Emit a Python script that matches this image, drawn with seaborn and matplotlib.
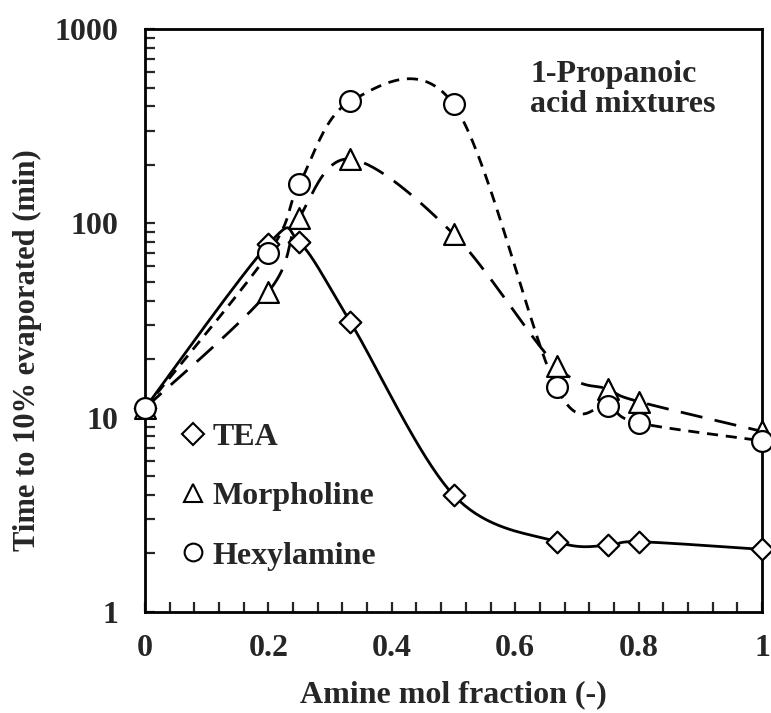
import numpy as np
import pandas as pd
import matplotlib
matplotlib.use("Agg")
import matplotlib.pyplot as plt
from matplotlib.lines import Line2D
from matplotlib.ticker import FixedLocator, MultipleLocator, LogLocator, NullFormatter
import seaborn as sns

# ---- data ----
x_frac = [0.0, 0.2, 0.25, 0.333, 0.5, 0.667, 0.75, 0.8, 1.0]
tea = [11.2, 78, 80, 31, 4.0, 2.3, 2.2, 2.3, 2.1]
morpholine = [11.2, 44.5, 107, 214, 88, 18.5, 14.0, 12.1, 8.5]
hexylamine = [11.2, 70, 159, 425, 410, 14.3, 11.5, 9.4, 7.6]
series_names = ["TEA", "Morpholine", "Hexylamine"]
x_ticks = [0, 0.2, 0.4, 0.6, 0.8, 1]
x_tick_labels = ["0", "0.2", "0.4", "0.6", "0.8", "1"]
y_ticks = [1, 10, 100, 1000]
y_tick_labels = ["1", "10", "100", "1000"]

sns.set_style("ticks")
plt.rcParams["font.family"] = ["Liberation Serif", "DejaVu Serif"]
plt.rcParams["font.weight"] = "bold"

W, H = 771, 713
fig = plt.figure(figsize=(W / 100, H / 100), dpi=100)
ax = fig.add_axes([145 / W, 1 - 612 / H, (762 - 145) / W, (612 - 29) / H])


def smooth(xs, ys, sx=617.0, sy=194.0, n=40):
    """Excel-like smoothed line (Catmull-Rom Bezier) in display-like space."""
    P = np.column_stack([np.asarray(xs) * sx, np.log10(ys) * sy])
    out = []
    m = len(P)
    for i in range(m - 1):
        p0 = P[i - 1] if i > 0 else P[i]
        p1, p2 = P[i], P[i + 1]
        p3 = P[i + 2] if i + 2 < m else P[i + 1]
        c1 = p1 + (p2 - p0) / 6.0
        c2 = p2 - (p3 - p1) / 6.0
        t = np.linspace(0, 1, n)[:, None]
        seg = (1 - t) ** 3 * p1 + 3 * (1 - t) ** 2 * t * c1 + 3 * (1 - t) * t ** 2 * c2 + t ** 3 * p2
        out.append(seg if i == 0 else seg[1:])
    S = np.vstack(out)
    return S[:, 0] / sx, 10 ** (S[:, 1] / sy)


styles = {
    "TEA": dict(ls="-", marker="D", ms=11),
    "Morpholine": dict(ls=(0, (8, 4.5)), marker="^", ms=15),
    "Hexylamine": dict(ls=(0, (4, 2.8)), marker="o", ms=15),
}
data = {"TEA": tea, "Morpholine": morpholine, "Hexylamine": hexylamine}

lw = 2.0
for name in series_names:
    cx, cy = smooth(x_frac, data[name])
    sns.lineplot(x=cx, y=cy, sort=False, estimator=None, color="black",
                 linewidth=lw, linestyle=styles[name]["ls"], ax=ax, zorder=2)

for name in series_names:
    df = pd.DataFrame({"x": x_frac, "y": data[name]})
    sns.scatterplot(data=df, x="x", y="y", marker=styles[name]["marker"],
                    s=styles[name]["ms"] ** 2, facecolor="white", edgecolor="black",
                    linewidth=1.6, ax=ax, zorder=3, clip_on=False)

ax.set_yscale("log")
ax.set_xlim(0, 1)
ax.set_ylim(1, 1000)

ax.xaxis.set_major_locator(FixedLocator(x_ticks))
ax.set_xticklabels(x_tick_labels)
ax.xaxis.set_minor_locator(MultipleLocator(0.04))
ax.yaxis.set_major_locator(FixedLocator(y_ticks))
ax.set_yticklabels(y_tick_labels)
ax.yaxis.set_minor_locator(LogLocator(base=10, subs=np.arange(2, 10)))
ax.yaxis.set_minor_formatter(NullFormatter())

ax.tick_params(axis="x", which="both", direction="in", length=7, width=1.6,
               labelsize=23, pad=16, top=False)
ax.tick_params(axis="y", which="both", direction="in", length=7, width=1.6,
               labelsize=23, pad=19, right=False)
for lab in ax.get_xticklabels() + ax.get_yticklabels():
    lab.set_fontweight("bold")

for sp in ax.spines.values():
    sp.set_visible(True)
    sp.set_linewidth(2.0)
    sp.set_color("black")

ax.set_xlabel("Amine mol fraction (-)", fontsize=23, fontweight="bold", labelpad=12)
ax.set_ylabel("Time to 10% evaporated (min)", fontsize=22, fontweight="bold")
ax.yaxis.set_label_coords(-0.167, 0.45)

ax.text(0.624, 0.947, "1-Propanoic\nacid mixtures", transform=ax.transAxes,
        fontsize=23, fontweight="bold", va="top", ha="left", linespacing=1.05)

handles = [Line2D([], [], ls="none", marker=styles[n]["marker"], ms=styles[n]["ms"] * (0.85 if n != "TEA" else 1.0),
                  mfc="white", mec="black", mew=1.5) for n in series_names]
leg = ax.legend(handles, series_names, loc="upper left", bbox_to_anchor=(0.037, 0.346),
                frameon=False, fontsize=23, handlelength=0.8, handletextpad=0.2,
                labelspacing=0.93, borderaxespad=0)
for t in leg.get_texts():
    t.set_fontweight("bold")

fig.savefig("out.png", dpi=100, facecolor="white")
